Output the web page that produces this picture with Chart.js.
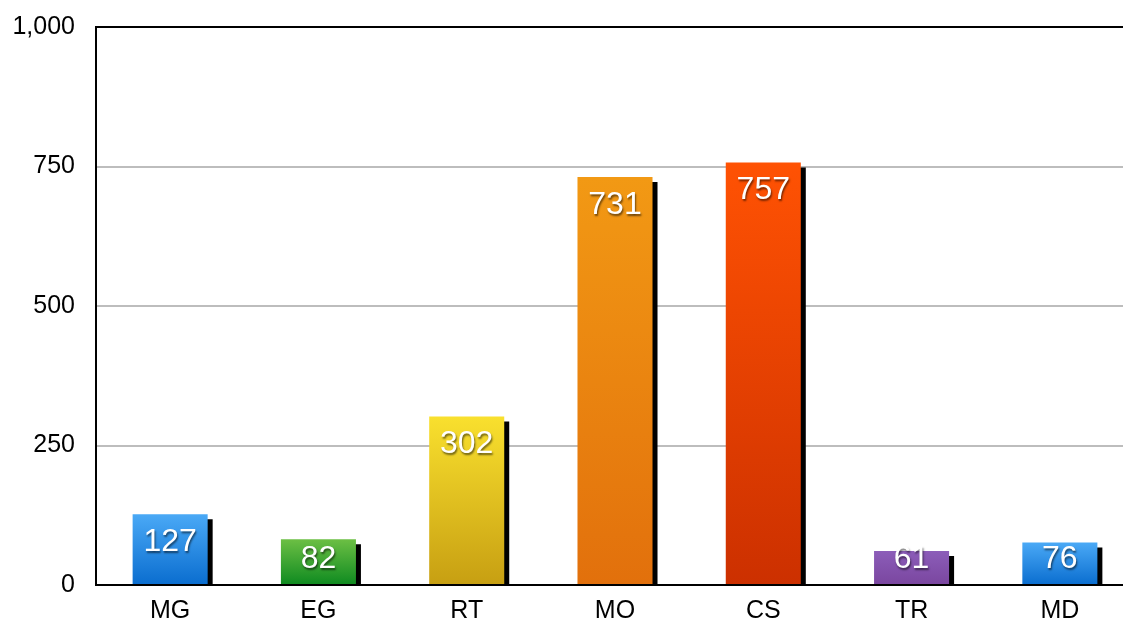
<!DOCTYPE html>
<html>
<head>
<meta charset="utf-8">
<script src="https://cdn.jsdelivr.net/npm/chart.js@4/dist/chart.umd.min.js"></script>
<style>
  html, body { margin: 0; padding: 0; background: #fff; overflow: hidden; }
  #wrap { width: 1140px; height: 621px; position: relative; }
</style>
</head>
<body>
<div id="wrap"><canvas id="barChart"></canvas></div>
<script>
// Chart data
const categories = ['MG', 'EG', 'RT', 'MO', 'CS', 'TR', 'MD'];
const counts = [127, 82, 302, 731, 757, 61, 76];
const yTicks = [0, 250, 500, 750, 1000];

// top / bottom colour of each bar's gradient
const topColors = ['#4aa9f6', '#6cbf44', '#f9e02e', '#f29914', '#ff5203', '#8c5db9', '#4aa9f6'];
const bottomColors = ['#0a6dcf', '#0e8a20', '#c79f12', '#e2700c', '#cc3000', '#7a469f', '#0a6dcf'];

function barGradient(context) {
    const chart = context.chart;
    const i = context.dataIndex;
    if (!chart.chartArea || i === undefined) return topColors[i] || '#888';
    const yScale = chart.scales.y;
    const yTop = yScale.getPixelForValue(counts[i]);
    const yBottom = yScale.getPixelForValue(0);
    const g = chart.ctx.createLinearGradient(0, yTop, 0, yBottom);
    g.addColorStop(0, topColors[i]);
    g.addColorStop(1, bottomColors[i]);
    return g;
}

// hard black drop shadow behind the bars
const barShadow = {
    id: 'barShadow',
    beforeDatasetsDraw(chart) {
        const ctx = chart.ctx;
        ctx.save();
        ctx.shadowColor = '#000';
        ctx.shadowOffsetX = 5;
        ctx.shadowOffsetY = 5;
        ctx.shadowBlur = 0;
    },
    afterDatasetsDraw(chart) {
        chart.ctx.restore();
    }
};

// white value labels inside the top of each bar
const valueLabels = {
    id: 'valueLabels',
    afterDraw(chart) {
        const ctx = chart.ctx;
        const meta = chart.getDatasetMeta(0);
        ctx.save();
        ctx.font = '32px "Liberation Sans", Arial, sans-serif';
        ctx.textAlign = 'center';
        ctx.textBaseline = 'middle';
        ctx.fillStyle = '#fff';
        ctx.shadowColor = 'rgba(0,0,0,0.55)';
        ctx.shadowOffsetX = 1;
        ctx.shadowOffsetY = 2;
        ctx.shadowBlur = 2;
        meta.data.forEach((bar, i) => {
            const y = Math.min(bar.y + 28, 559);
            ctx.fillText(String(counts[i]), bar.x, y);
        });
        ctx.restore();
    }
};

const ctx = document.getElementById('barChart').getContext('2d');
new Chart(ctx, {
    type: 'bar',
    data: {
        labels: categories,
        datasets: [{
            data: counts,
            backgroundColor: barGradient,
            borderWidth: 0,
            barPercentage: 0.506,
            categoryPercentage: 1.0
        }]
    },
    options: {
        responsive: true,
        maintainAspectRatio: false,
        animation: false,
        layout: {
            padding: { top: 27, right: 6, left: 0, bottom: 0 }
        },
        plugins: {
            legend: { display: false },
            tooltip: { enabled: false }
        },
        scales: {
            x: {
                grid: { display: false, drawTicks: false },
                border: { display: false },
                ticks: {
                    color: '#000',
                    padding: 11,
                    font: { family: '"Liberation Sans", Arial, sans-serif', size: 25 }
                },
                afterFit: s => { s.height = 36; }
            },
            y: {
                min: 0,
                max: 1000,
                afterBuildTicks: s => { s.ticks = yTicks.map(v => ({ value: v })); },
                grid: {
                    drawTicks: false,
                    lineWidth: 2,
                    color: c => (c.tick && (c.tick.value === 0 || c.tick.value === 1000)) ? '#000' : '#bdbdbd'
                },
                border: { display: true, color: '#000', width: 2 },
                ticks: {
                    color: '#000',
                    padding: 21,
                    font: { family: '"Liberation Sans", Arial, sans-serif', size: 25 },
                    callback: v => v.toLocaleString('en-US')
                },
                afterFit: s => { s.width = 96; s.paddingTop = 0; s.paddingBottom = 0; }
            }
        }
    },
    plugins: [barShadow, valueLabels]
});
</script>
</body>
</html>
